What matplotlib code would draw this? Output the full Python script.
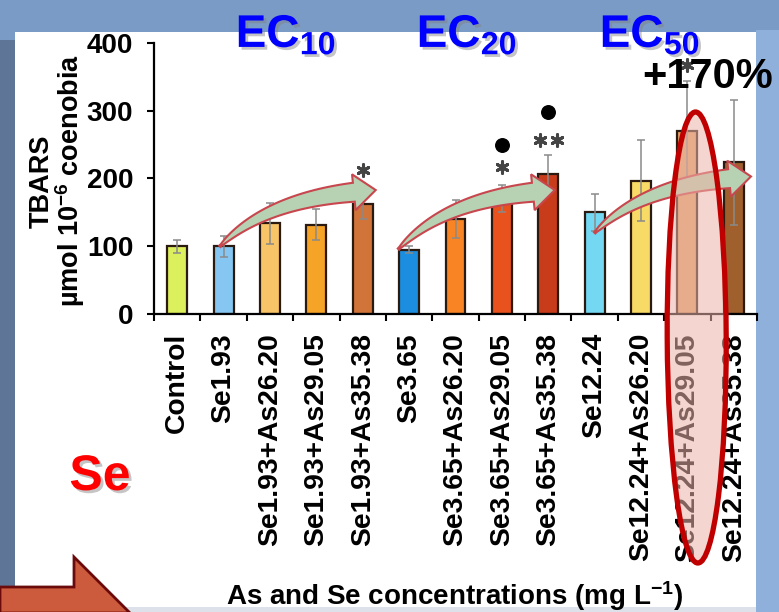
import matplotlib
matplotlib.use('Agg')
import matplotlib.pyplot as plt
import numpy as np
from matplotlib.patches import Rectangle, Polygon, Ellipse
from matplotlib.transforms import IdentityTransform
import matplotlib.patheffects as pe

plt.rcParams['font.family'] = ['Liberation Sans', 'DejaVu Sans']
plt.rcParams['mathtext.fontset'] = 'custom'
plt.rcParams['mathtext.rm'] = 'Liberation Sans'
plt.rcParams['mathtext.bf'] = 'Liberation Sans:bold'
plt.rcParams['mathtext.it'] = 'Liberation Sans:italic'

# ---------------- data ----------------
categories = ["Control", "Se1.93", "Se1.93+As26.20", "Se1.93+As29.05", "Se1.93+As35.38",
              "Se3.65", "Se3.65+As26.20", "Se3.65+As29.05", "Se3.65+As35.38",
              "Se12.24", "Se12.24+As26.20", "Se12.24+As29.05", "Se12.24+As35.38"]
tbars = [100, 100, 134, 132, 162, 95, 141, 170, 207, 150, 197, 270, 224]
errors = [10, 15, 30, 23, 22, 5, 28, 20, 28, 27, 60, 74, 92]
bar_colors = ["#dcef5c", "#86c6f2", "#f8c468", "#f6a428", "#d0743a",
              "#1c8ee0", "#f88424", "#e8521c", "#c83c1c",
              "#74d8f2", "#f8da66", "#e0a468", "#a0602e"]
yticks = [0, 100, 200, 300, 400]

star_idx = [4, 7, 8, 11]
star_y = [212, 217, 257, 367]
star_n = [1, 1, 2, 1]
dot_idx = [7, 8]
dot_y = [249, 298]

# annotation arrows (tail, tip) in data coordinates
arrow_tails = [(0.92, 100), (4.77, 96), (9.0, 120)]
arrow_tips = [(4.28, 183), (8.14, 183), (12.37, 203)]
highlight_idx = 11

W, H = 779, 612
fig = plt.figure(figsize=(W / 100, H / 100), dpi=100)
fig.patch.set_facecolor('#7b9bc7')

def fx(x):
    return x / W

def fy(y):
    return 1 - y / H

# frame pieces
fig.add_artist(Rectangle((0, 0), fx(16), fy(40), transform=fig.transFigure,
                         facecolor='#5f7597', edgecolor='none', zorder=0))
fig.add_artist(Rectangle((fx(756), 0), 1 - fx(756), fy(30), transform=fig.transFigure,
                         facecolor='#8fb0da', edgecolor='none', zorder=0))
fig.add_artist(Rectangle((fx(15), fy(612)), fx(741), (580) / H, transform=fig.transFigure,
                         facecolor='#dde2ea', edgecolor='none', zorder=0.5))
fig.add_artist(Rectangle((fx(15), fy(607)), fx(741), (575) / H, transform=fig.transFigure,
                         facecolor='white', edgecolor='none', zorder=1))

# axes
ax = fig.add_axes([fx(154), fy(314.3), fx(757) - fx(154), (314.3 - 42.7) / H])
ax.set_facecolor('none')
ax.set_zorder(2)
x = np.arange(len(categories))
ax.bar(x, tbars, width=0.43, color=bar_colors, edgecolor='#2a1a10', linewidth=1.6, zorder=2)
ax.errorbar(x, tbars, yerr=errors, fmt='none', ecolor='#8a8a8a', elinewidth=1.1,
            capsize=3, capthick=1.1, zorder=3)

ax.set_xlim(-0.5, len(categories) - 0.5)
ax.set_ylim(0, 400)
ax.set_yticks(yticks)
ax.set_yticklabels([str(v) for v in yticks], fontsize=20, fontweight='bold')
ax.set_xticks(np.arange(-0.5, len(categories), 1.0))
ax.set_xticklabels([])
ax.set_xticks(x, minor=True)
ax.set_xticklabels(categories, minor=True, rotation=90, fontsize=20.3, fontweight='bold')
ax.tick_params(axis='x', which='minor', length=0, pad=13.5)
ax.tick_params(axis='both', which='major', length=5, width=1.5, direction='out')
ax.tick_params(axis='y', pad=10)
for s in ['top', 'right']:
    ax.spines[s].set_visible(False)
for s in ['left', 'bottom']:
    ax.spines[s].set_linewidth(1.6)

# significance marks
for i, yv, n in zip(star_idx, star_y, star_n):
    offs = [0.0] if n == 1 else [-0.18, 0.18]
    for o in offs:
        ax.scatter([x[i] + o], [yv], marker=(6, 2, 0), s=70, color='#444444',
                   linewidths=2.2, zorder=4, clip_on=False)
for i, yv in zip(dot_idx, dot_y):
    ax.scatter([x[i]], [yv], marker='o', s=95, color='black', zorder=4, clip_on=False)

# curved arrows
def arrow_poly(tail, tip):
    A = np.array(ax.transData.transform(tail))
    T = np.array(ax.transData.transform(tip))
    u = np.array([1.0, 0.1]); u /= np.linalg.norm(u)
    L, Hh, hmax = 22.0, 18.0, 9.5
    B = T - u * L
    C = B - u * 90.0
    ts = np.linspace(0, 1, 60)
    pts = ((1 - ts) ** 2)[:, None] * A + (2 * (1 - ts) * ts)[:, None] * C + (ts ** 2)[:, None] * B
    der = (2 * (1 - ts))[:, None] * (C - A) + (2 * ts)[:, None] * (B - C)
    der /= np.linalg.norm(der, axis=1)[:, None]
    nrm = np.stack([-der[:, 1], der[:, 0]], axis=1)
    hw = hmax * np.maximum(ts, 0.02) ** 0.6
    top = pts + nrm * hw[:, None]
    bot = pts - nrm * hw[:, None]
    nB = nrm[-1]
    head = [B + nB * Hh, T, B - nB * Hh]
    poly = np.vstack([top, head, bot[::-1]])
    return poly

for tl, tp in zip(arrow_tails, arrow_tips):
    poly = arrow_poly(tl, tp)
    fig.add_artist(Polygon(poly, closed=True, transform=IdentityTransform(),
                           facecolor='#b6d2b2', edgecolor='#c8464e', linewidth=1.5,
                           zorder=5))

# highlight ellipse (slightly right of the highlighted bar, as in the slide)
cx_disp = ax.transData.transform((x[highlight_idx] + 0.2, 0))[0]
fig.add_artist(Ellipse((cx_disp, H - 337.5), 59, 451, angle=0.3, transform=IdentityTransform(),
                       facecolor=(0.93, 0.70, 0.66, 0.55), edgecolor='#c00000',
                       linewidth=3.8, zorder=6))

# axis labels
fig.text(fx(58), fy(181), "TBARS\nµmol 10$^{\\mathbf{-6}}$ coenobia", rotation=90,
         ha='center', va='center', multialignment='center', fontsize=19.5,
         fontweight='bold', linespacing=0.92, zorder=7)
fig.text(fx(455), fy(605), "As and Se concentrations (mg L$^{\\mathbf{-1}}$)",
         ha='center', va='baseline', fontsize=20, fontweight='bold', zorder=7)

shadow = [pe.SimplePatchShadow(offset=(2, -2), shadow_rgbFace='#808080', alpha=0.45), pe.Normal()]
for lab, cxp in zip(["10", "20", "50"], [286, 467, 650]):
    fig.text(fx(cxp), fy(47), r"$\mathbf{EC_{%s}}$" % lab, ha='center', va='baseline',
             fontsize=33, color='#0000ff', path_effects=shadow, zorder=7)
fig.text(fx(642), fy(88), "+170%", ha='left', va='baseline', fontsize=30,
         fontweight='bold', color='black', zorder=8)
fig.text(fx(100), fy(490), "Se", ha='center', va='baseline', fontsize=36,
         fontweight='bold', color='#ff0000', path_effects=shadow, zorder=7)

# bottom-left block arrow
bl = np.array([(0, 587), (74, 587), (74, 557), (130, 613), (0, 613)], dtype=float)
bl[:, 1] = H - bl[:, 1]
fig.add_artist(Polygon(bl, closed=True, transform=IdentityTransform(),
                       facecolor='#cc5a3c', edgecolor='#6a0a0a', linewidth=2, zorder=7))

fig.savefig('out.png', dpi=100)
